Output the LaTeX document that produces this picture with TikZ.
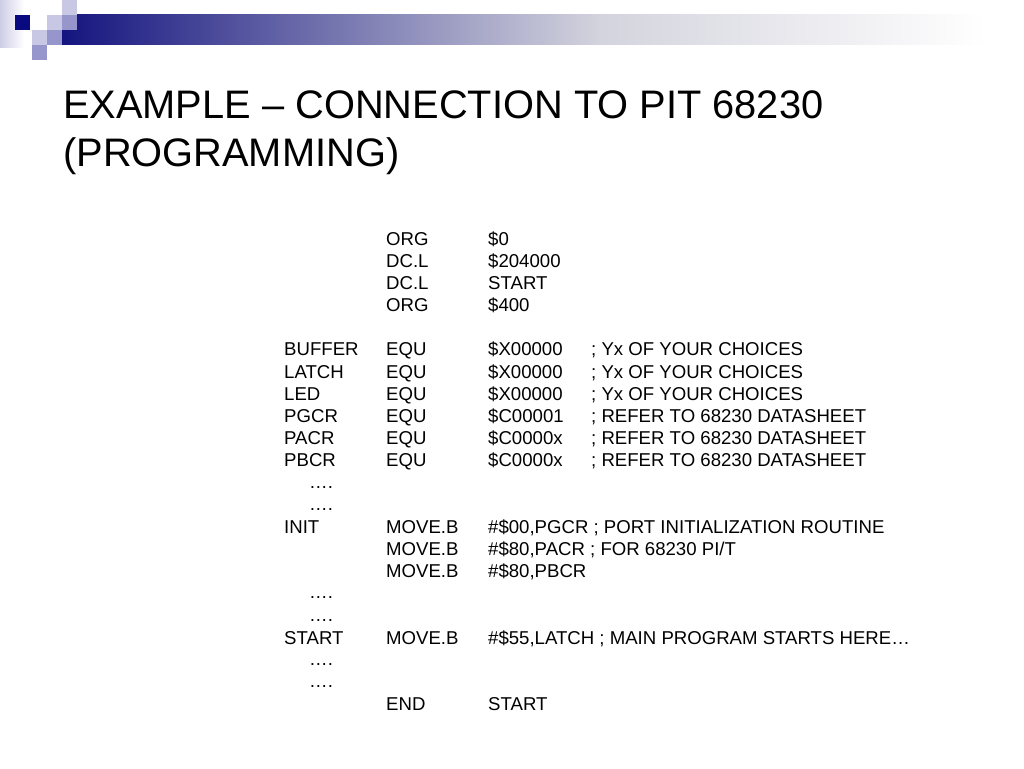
\documentclass[tikz,border=0pt]{standalone}
\usepackage{fontspec}
\setmainfont{Liberation Sans}
\definecolor{navy}{RGB}{10,10,128}
\definecolor{lightsq}{RGB}{200,200,228}
\definecolor{midsq}{RGB}{150,150,204}
\definecolor{fadesq}{RGB}{205,205,230}
\pgfdeclarehorizontalshading{barshade}{100bp}{rgb(0bp)=(0.08,0.08,0.5); rgb(25bp)=(0.08,0.08,0.5); rgb(53bp)=(0.83,0.83,0.87); rgb(73bp)=(1,1,1); rgb(100bp)=(1,1,1)}
\tikzset{
  code/.style={anchor=base west, inner sep=0pt, font=\fontsize{18.6}{22}\selectfont, text=black},
  titletext/.style={anchor=base west, inner sep=0pt, font=\fontsize{39.8}{48}\selectfont, text=black},
  sq/.style={draw=none}
}
\begin{document}
\begin{tikzpicture}[x=1pt,y=-1pt]
\useasboundingbox[fill=white] (0,0) rectangle (1024,768);
% corner decoration
\shade[left color=fadesq, right color=white] (0,0) rectangle (24,48);
\shade[shading=barshade] (62,15) rectangle (1024,45);
\fill[lightsq] (62,0) rectangle (77,15);
\fill[navy] (15,15) rectangle (30,30);
\fill[lightsq] (47,15) rectangle (62,30);
\fill[midsq] (62,15) rectangle (77,30);
\fill[lightsq] (32,30) rectangle (47,45);
\fill[midsq] (47,30) rectangle (62,45);
\fill[midsq] (32,45) rectangle (47,60);
% title
\node[titletext] (t1) at (63,118.5) {EXAMPLE – CONNECTION TO PIT 68230};
\node[titletext] (t2) at (63,166.5) {(PROGRAMMING)};
% code listing
\node[code] (r0b) at (386,245) {ORG};
\node[code] (r0c) at (488,245) {\$0};
\node[code] (r1b) at (386,267.2) {DC.L};
\node[code] (r1c) at (488,267.2) {\$204000};
\node[code] (r2b) at (386,289.4) {DC.L};
\node[code] (r2c) at (488,289.4) {START};
\node[code] (r3b) at (386,311.5) {ORG};
\node[code] (r3c) at (488,311.5) {\$400};
\node[code] (r5a) at (284,355.9) {BUFFER};
\node[code] (r5b) at (386,355.9) {EQU};
\node[code] (r5c) at (488,355.9) {\$X00000};
\node[code] (r5d) at (591,355.9) {; Yx OF YOUR CHOICES};
\node[code] (r6a) at (284,378.1) {LATCH};
\node[code] (r6b) at (386,378.1) {EQU};
\node[code] (r6c) at (488,378.1) {\$X00000};
\node[code] (r6d) at (591,378.1) {; Yx OF YOUR CHOICES};
\node[code] (r7a) at (284,400.3) {LED};
\node[code] (r7b) at (386,400.3) {EQU};
\node[code] (r7c) at (488,400.3) {\$X00000};
\node[code] (r7d) at (591,400.3) {; Yx OF YOUR CHOICES};
\node[code] (r8a) at (284,422.4) {PGCR};
\node[code] (r8b) at (386,422.4) {EQU};
\node[code] (r8c) at (488,422.4) {\$C00001};
\node[code] (r8d) at (591,422.4) {; REFER TO 68230 DATASHEET};
\node[code] (r9a) at (284,444.6) {PACR};
\node[code] (r9b) at (386,444.6) {EQU};
\node[code] (r9c) at (488,444.6) {\$C0000x};
\node[code] (r9d) at (591,444.6) {; REFER TO 68230 DATASHEET};
\node[code] (r10a) at (284,466.8) {PBCR};
\node[code] (r10b) at (386,466.8) {EQU};
\node[code] (r10c) at (488,466.8) {\$C0000x};
\node[code] (r10d) at (591,466.8) {; REFER TO 68230 DATASHEET};
\node[code] (r11) at (309,488.0) {….};
\node[code] (r12) at (309,510.2) {….};
\node[code] (r13a) at (284,533.3) {INIT};
\node[code] (r13b) at (386,533.3) {MOVE.B};
\node[code] (r13c) at (488,533.3) {\#\$00,PGCR ; PORT INITIALIZATION ROUTINE};
\node[code] (r14b) at (386,555.5) {MOVE.B};
\node[code] (r14c) at (488,555.5) {\#\$80,PACR ; FOR 68230 PI/T};
\node[code] (r15b) at (386,577.7) {MOVE.B};
\node[code] (r15c) at (488,577.7) {\#\$80,PBCR};
\node[code] (r16) at (309,598.9) {….};
\node[code] (r17) at (309,621.1) {….};
\node[code] (r18a) at (284,644.2) {START};
\node[code] (r18b) at (386,644.2) {MOVE.B};
\node[code] (r18c) at (488,644.2) {\#\$55,LATCH ; MAIN PROGRAM STARTS HERE…};
\node[code] (r19) at (309,665.4) {….};
\node[code] (r20) at (309,687.6) {….};
\node[code] (r21b) at (386,710.8) {END};
\node[code] (r21c) at (488,710.8) {START};
\end{tikzpicture}
\end{document}
